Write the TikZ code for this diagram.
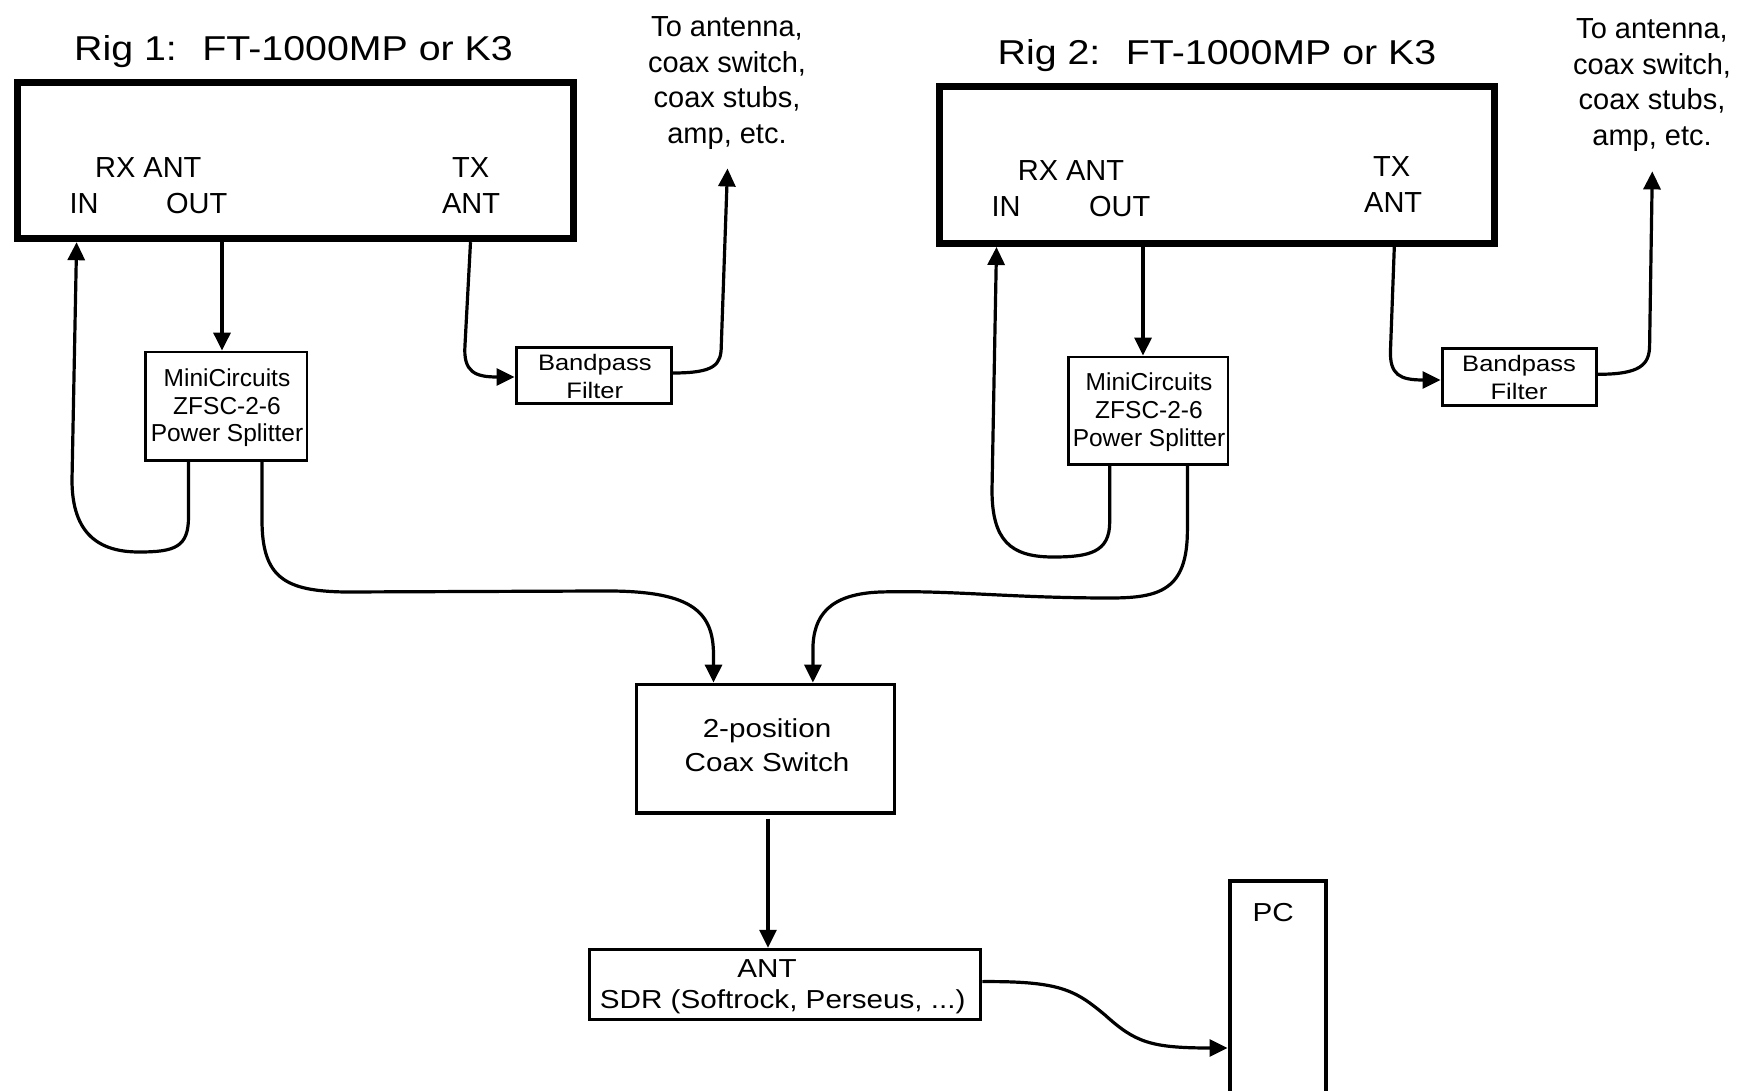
\documentclass[tikz,border=0pt]{standalone}
\usepackage{fontspec}
\setmainfont{Liberation Sans}
\newfontfamily\wfont{Liberation Sans}[FakeStretch=1.14]
\usetikzlibrary{arrows.meta}
\begin{document}
\begin{tikzpicture}[x=1pt,y=-1pt,
  conn/.style={line width=3.2pt,-{Triangle[length=18pt,width=17pt]}},
  rigbox/.style={draw,line width=7pt,rectangle,inner sep=0pt},
  smallbox/.style={draw,line width=3pt,rectangle,inner sep=0pt},
  title/.style={inner sep=0pt,font=\wfont\fontsize{34.5}{41}\selectfont},
  lab/.style={inner sep=0pt,font=\fontsize{29}{35}\selectfont},
  spl/.style={inner sep=0pt,font=\fontsize{24.5}{28}\selectfont},
  bpf/.style={inner sep=0pt,font=\wfont\fontsize{22.4}{27}\selectfont},
  swt/.style={inner sep=0pt,font=\wfont\fontsize{26}{32}\selectfont},
]
\useasboundingbox (0,0) rectangle (1740,1091);
\clip (0,0) rectangle (1740,1091);

% ---------- boxes ----------
\node[rigbox,minimum width=556.5pt,minimum height=155.9pt] (rig1) at (295.25,160.75) {};
\node[rigbox,minimum width=555.5pt,minimum height=157.1pt] (rig2) at (1216.75,164.95) {};
\node[smallbox,line width=2.8pt,minimum width=161.7pt,minimum height=108.5pt] (split1) at (226.15,406.25) {};
\node[smallbox,line width=2.8pt,minimum width=159.5pt,minimum height=107.5pt] (split2) at (1148.25,410.75) {};
\node[smallbox,minimum width=155pt,minimum height=56pt] (bp1) at (593.5,375) {};
\node[smallbox,minimum width=154.5pt,minimum height=56.5pt] (bp2) at (1519.25,376.75) {};
\node[smallbox,line width=3.4pt,minimum width=258pt,minimum height=128.7pt] (switch) at (765.5,748.65) {};
\node[smallbox,line width=3.5pt,minimum width=391pt,minimum height=70pt] (sdr) at (785,984.5) {};
\node[smallbox,line width=4pt,minimum width=96.5pt,minimum height=240pt] (pc) at (1277.75,1001) {};

% ---------- texts ----------
\node[title,anchor=base west] (t1) at (74,60.7) {Rig 1:~ FT-1000MP or K3};
\node[title,anchor=base west] (t2) at (997.5,64.5) {Rig 2:~ FT-1000MP or K3};

\node[lab,anchor=base] (r1rx) at (148.3,177.3) {RX ANT};
\node[lab,anchor=base] (r1in) at (84,213.3) {IN};
\node[lab,anchor=base] (r1out) at (196.7,213.3) {OUT};
\node[lab,anchor=base] (r1tx) at (470.7,177.3) {TX};
\node[lab,anchor=base] (r1ant) at (471,213.3) {ANT};

\node[lab,anchor=base] (r2rx) at (1071,180.9) {RX ANT};
\node[lab,anchor=base] (r2in) at (1006,216.3) {IN};
\node[lab,anchor=base] (r2out) at (1119.7,216.3) {OUT};
\node[lab,anchor=base] (r2tx) at (1391.6,176.5) {TX};
\node[lab,anchor=base] (r2ant) at (1393.2,212.5) {ANT};

\node[spl,anchor=base] (s1l1) at (227,386) {MiniCircuits};
\node[spl,anchor=base] (s1l2) at (227,414) {ZFSC-2-6};
\node[spl,anchor=base] (s1l3) at (227,441.7) {Power Splitter};
\node[spl,anchor=base] (s2l1) at (1149,390.5) {MiniCircuits};
\node[spl,anchor=base] (s2l2) at (1149,418.5) {ZFSC-2-6};
\node[spl,anchor=base] (s2l3) at (1149,446.2) {Power Splitter};

\node[bpf,anchor=base] (b1l1) at (594.8,370) {Bandpass};
\node[bpf,anchor=base] (b1l2) at (594.8,398) {Filter};
\node[bpf,anchor=base] (b2l1) at (1519,371.5) {Bandpass};
\node[bpf,anchor=base] (b2l2) at (1519,399.5) {Filter};

\node[lab,anchor=base] (a1l1) at (727,36.7) {To antenna,};
\node[lab,anchor=base] (a1l2) at (727,72.2) {coax switch,};
\node[lab,anchor=base] (a1l3) at (727,107.7) {coax stubs,};
\node[lab,anchor=base] (a1l4) at (727,143.2) {amp, etc.};
\node[lab,anchor=base] (a2l1) at (1652,38.7) {To antenna,};
\node[lab,anchor=base] (a2l2) at (1652,74.2) {coax switch,};
\node[lab,anchor=base] (a2l3) at (1652,109.7) {coax stubs,};
\node[lab,anchor=base] (a2l4) at (1652,145.2) {amp, etc.};

\node[swt,anchor=base] (swl1) at (767,737.8) {2-position};
\node[swt,anchor=base] (swl2) at (767,771.6) {Coax Switch};
\node[swt,anchor=base] (sdrl1) at (767,977.2) {ANT};
\node[swt,anchor=base] (sdrl2) at (782.7,1008.7) {SDR (Softrock, Perseus, ...)};
\node[swt,anchor=base] (pcl) at (1273.3,921.7) {PC};

% ---------- ports ----------
\coordinate (p1in) at (rig1.south -| 76.6,0);
\coordinate (p1out) at (rig1.south -| 222,0);
\coordinate (p1tx) at (rig1.south -| 470.5,0);
\coordinate (p2in) at (rig2.south -| 996.5,0);
\coordinate (p2out) at (rig2.south -| 1143,0);
\coordinate (p2tx) at (rig2.south -| 1394.3,0);
\coordinate (s1a) at (split1.south -| 188.5,0);
\coordinate (s1b) at (split1.south -| 262,0);
\coordinate (s2a) at (split2.south -| 1109.7,0);
\coordinate (s2b) at (split2.south -| 1187.4,0);
\coordinate (sw1) at (switch.north -| 713.5,0);
\coordinate (sw2) at (switch.north -| 812.9,0);
\coordinate (ant1) at (727.5,168.5);
\coordinate (ant2) at (1652.3,171.4);

% ---------- connectors ----------
\draw[conn] (p1out) -- (p1out |- split1.north);
\draw[conn] (p2out) -- (p2out |- split2.north);

\draw[conn] (s1a) -- (188.5,517) .. controls (188.5,547) and (175,552) .. (139,552)
  .. controls (100,552) and (72,535) .. (72,480) -- (p1in);
\draw[conn] (s2a) -- (1109.7,522) .. controls (1109.7,552) and (1090,557) .. (1053,557)
  .. controls (1010,557) and (992,540) .. (992,490) -- (p2in);

\draw[conn] (s1b) -- (262,520) .. controls (262,578) and (285,591) .. (345,592)
  -- (600,591) .. controls (690,590) and (713.5,610) .. (713.5,655) -- (sw1);
\draw[conn] (s2b) -- (1187.4,530) .. controls (1187.4,590) and (1160,598) .. (1110,598)
  .. controls (1010,598) and (950,590) .. (880,592)
  .. controls (830,594) and (812.9,615) .. (812.9,650) -- (sw2);

\draw[conn] (p1tx) -- (465,345) .. controls (463,372) and (475,377) .. (bp1.west |- 0,377);
\draw[conn] (p2tx) -- (1390.5,350) .. controls (1389.5,375) and (1400,380) .. (bp2.west |- 0,380);

\draw[conn] (bp1.east |- 0,373) .. controls (715,373) and (721.3,365) .. (721.3,345) -- (ant1);
\draw[conn] (bp2.east |- 0,374.3) .. controls (1640,374.3) and (1649.6,365) .. (1649.6,345) -- (ant2);

\draw[conn,shorten <=4pt] (switch.south -| 768,0) -- (sdr.north -| 768,0);

\draw[conn] (sdr.east |- 0,981.6) .. controls (1060,981) and (1075,990) .. (1105,1015)
  .. controls (1135,1042) and (1150,1048) .. (pc.west |- 0,1048);
\end{tikzpicture}
\end{document}
